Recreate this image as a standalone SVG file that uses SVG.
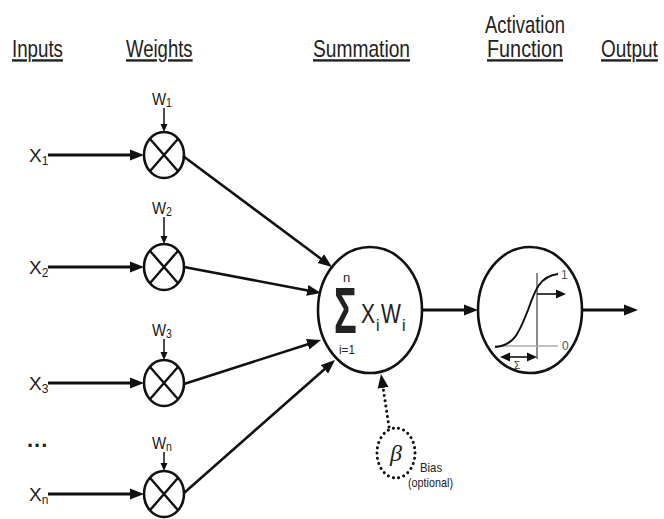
<svg xmlns="http://www.w3.org/2000/svg" width="664" height="519" viewBox="0 0 664 519">
<style>
text{font-family:"Liberation Sans",Arial,sans-serif;fill:#222}
.hdr{font-size:24px;text-decoration:underline}
.lbl{font-size:19px}
.wl{font-size:17px}
.sub{font-size:12px}
.node{fill:#fff;stroke:#111;stroke-width:2.6}
.x{stroke:#111;stroke-width:2.4;fill:none}
.in{stroke:#111;stroke-width:3.2;fill:none}
.con{stroke:#111;stroke-width:2.6;fill:none}
.wa{stroke:#111;stroke-width:1.5;fill:none}
.thin{stroke:#111;stroke-width:1.6;fill:none}
.dot{stroke:#111;stroke-width:3;fill:none;stroke-dasharray:0.1 5.2;stroke-linecap:round}
</style>
<defs>
<marker id="ah" markerUnits="userSpaceOnUse" markerWidth="16" markerHeight="12" refX="6" refY="6" orient="auto" viewBox="0 0 16 12">
<path d="M0,0.5 L14,6 L0,11.5 z" fill="#111"/>
</marker>
<marker id="ahs" markerUnits="userSpaceOnUse" markerWidth="10" markerHeight="8" refX="4" refY="4" orient="auto" viewBox="0 0 10 8">
<path d="M0,0.5 L8,4 L0,7.5 z" fill="#111"/>
</marker>
<marker id="aht" markerUnits="userSpaceOnUse" markerWidth="11" markerHeight="10" refX="6" refY="5" orient="auto-start-reverse" viewBox="0 0 11 10">
<path d="M0,0.5 L10,5 L0,9.5 z" fill="#111"/>
</marker>
</defs>
<rect width="664" height="519" fill="#fff"/>

<g id="headers">
<text class="hdr" transform="translate(12,57) scale(0.78,1)">Inputs</text>
<text class="hdr" transform="translate(126,57) scale(0.773,1)">Weights</text>
<text class="hdr" transform="translate(313,57) scale(0.8,1)">Summation</text>
<text transform="translate(485,33) scale(0.769,1)" style="font-size:24px">Activation</text>
<text class="hdr" transform="translate(487,57) scale(0.826,1)">Function</text>
<text class="hdr" transform="translate(601,57) scale(0.79,1)">Output</text>
</g>

<g id="inputs">
<text class="lbl" x="29" y="162">X<tspan class="sub" dy="3">1</tspan></text>
<text class="lbl" x="29" y="274">X<tspan class="sub" dy="3">2</tspan></text>
<text class="lbl" x="29" y="390">X<tspan class="sub" dy="3">3</tspan></text>
<text x="27" y="447" style="font-size:22px;font-weight:bold;letter-spacing:1px">...</text>
<text class="lbl" x="29" y="501">X<tspan class="sub" dy="3">n</tspan></text>
</g>

<g id="weights">
<text class="wl" transform="translate(152,105) scale(0.88,1)">W<tspan class="sub" dy="2">1</tspan></text>
<text class="wl" transform="translate(152,214) scale(0.88,1)">W<tspan class="sub" dy="2">2</tspan></text>
<text class="wl" transform="translate(152,336) scale(0.88,1)">W<tspan class="sub" dy="2">3</tspan></text>
<text class="wl" transform="translate(152,449) scale(0.88,1)">W<tspan class="sub" dy="2">n</tspan></text>
</g>

<g id="mult1">
<ellipse class="node" cx="164" cy="155" rx="20" ry="23"/>
<path class="x" d="M149.9,138.7 L178.1,171.3 M178.1,138.7 L149.9,171.3"/>
</g>
<g id="mult2">
<ellipse class="node" cx="164" cy="267" rx="20" ry="23"/>
<path class="x" d="M149.9,250.7 L178.1,283.3 M178.1,250.7 L149.9,283.3"/>
</g>
<g id="mult3">
<ellipse class="node" cx="164" cy="383" rx="20" ry="23"/>
<path class="x" d="M149.9,366.7 L178.1,399.3 M178.1,366.7 L149.9,399.3"/>
</g>
<g id="multn">
<ellipse class="node" cx="164" cy="494" rx="20" ry="23"/>
<path class="x" d="M149.9,477.7 L178.1,510.3 M178.1,477.7 L149.9,510.3"/>
</g>

<g id="summation">
<ellipse class="node" cx="370" cy="310" rx="52" ry="63"/>
<text transform="translate(334,333) scale(1.05,1.8)" style="font-size:36px;font-weight:bold">Σ</text>
<text x="343" y="282" style="font-size:13px">n</text>
<text transform="translate(339,354) scale(0.9,1)" style="font-size:13px">i=1</text>
<text transform="translate(361,323) scale(0.78,1)" style="font-size:27px">X</text>
<text x="376" y="331" style="font-size:16px">i</text>
<text transform="translate(381,323) scale(0.78,1)" style="font-size:27px">W</text>
<text x="402" y="331" style="font-size:16px">i</text>
</g>

<g id="activation">
<ellipse class="node" cx="530" cy="310" rx="52" ry="63"/>
<line x1="537" y1="273" x2="537" y2="359" stroke="#666" stroke-width="1.5"/>
<line x1="495" y1="346" x2="558" y2="346" stroke="#aaa" stroke-width="1.5"/>
<path d="M495,347 C515,346 520,330 528,310 C535,290 540,276 558,274" fill="none" stroke="#111" stroke-width="2"/>
<line class="thin" x1="537" y1="294" x2="562" y2="294" marker-end="url(#aht)"/>
<line class="thin" x1="504" y1="357" x2="533" y2="357" marker-start="url(#aht)" marker-end="url(#aht)"/>
<text x="561" y="279" style="font-size:12px;fill:#555">1</text>
<text x="562" y="350" style="font-size:12px;fill:#555">0</text>
<text x="514" y="369" style="font-size:10px;fill:#333">Σ</text>
</g>

<g id="bias">
<ellipse class="dot" cx="396" cy="453" rx="19" ry="25"/>
<text x="396" y="461" text-anchor="middle" style="font-family:'Liberation Serif','DejaVu Serif',serif;font-style:italic;font-size:24px">β</text>
<text transform="translate(420,472) scale(0.95,1)" style="font-size:12px">Bias</text>
<text transform="translate(408,487) scale(0.9,1)" style="font-size:12px">(optional)</text>
</g>

<g id="connectors">
<line class="in" x1="48" y1="155" x2="136" y2="155" marker-end="url(#ah)"/>
<line class="in" x1="48" y1="267" x2="136" y2="267" marker-end="url(#ah)"/>
<line class="in" x1="48" y1="383" x2="136" y2="383" marker-end="url(#ah)"/>
<line class="in" x1="48" y1="494" x2="136" y2="494" marker-end="url(#ah)"/>
<line class="wa" x1="164" y1="108" x2="164" y2="128" marker-end="url(#ahs)"/>
<line class="wa" x1="164" y1="217" x2="164" y2="240" marker-end="url(#ahs)"/>
<line class="wa" x1="164" y1="339" x2="164" y2="356" marker-end="url(#ahs)"/>
<line class="wa" x1="164" y1="452" x2="164" y2="467" marker-end="url(#ahs)"/>
<line class="con" x1="183" y1="156" x2="325.6" y2="262.2" marker-end="url(#ah)"/>
<line class="con" x1="184" y1="267" x2="313.1" y2="291.5" marker-end="url(#ah)"/>
<line class="con" x1="184" y1="384" x2="313.4" y2="342.4" marker-end="url(#ah)"/>
<line class="con" x1="184" y1="493" x2="329" y2="365.3" marker-end="url(#ah)"/>
<line class="in" x1="422" y1="310" x2="470" y2="310" marker-end="url(#ah)"/>
<line class="in" x1="582" y1="310" x2="630" y2="310" marker-end="url(#ah)"/>
<line class="dot" x1="389" y1="427" x2="382.2" y2="381.9" marker-end="url(#ah)"/>
</g>
</svg>
